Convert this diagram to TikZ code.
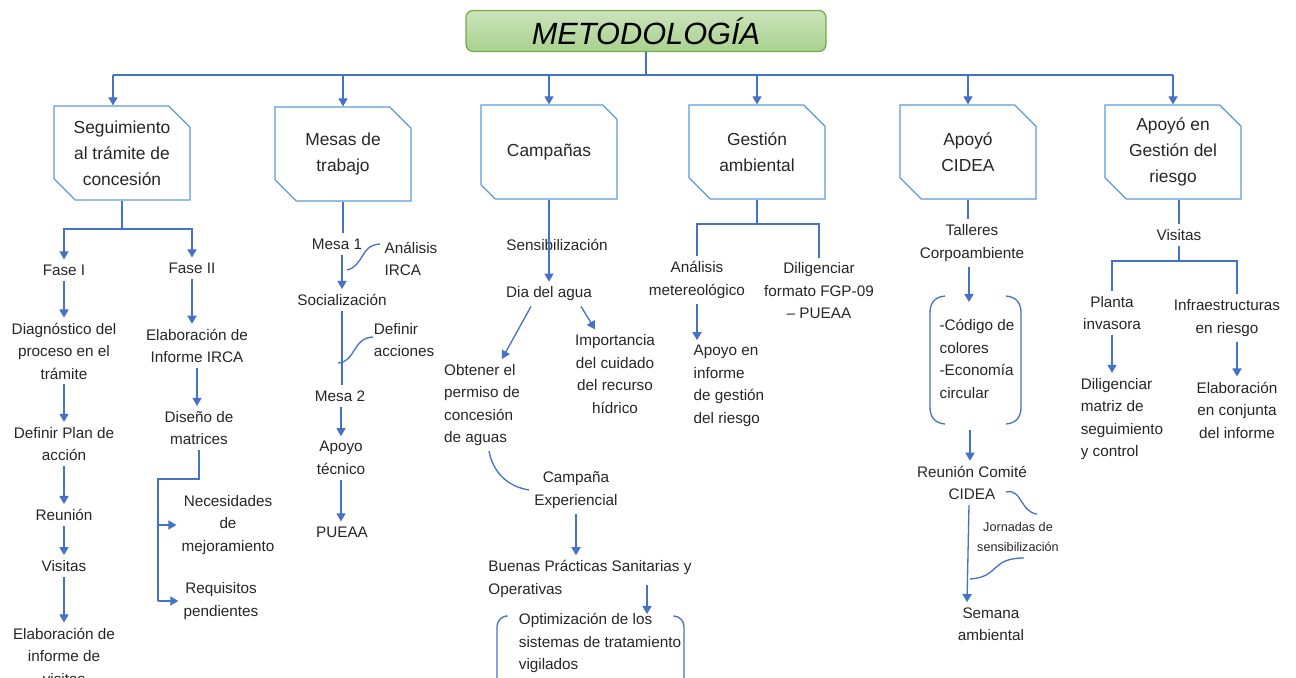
\documentclass[tikz,border=0pt]{standalone}
\usepackage{fontspec}
\setmainfont{Liberation Sans}
\usetikzlibrary{arrows.meta,shapes.misc,positioning,calc}
\definecolor{azul}{HTML}{4472C4}
\definecolor{azulcaja}{HTML}{5B9BD5}
\definecolor{verde}{HTML}{A9D18E}
\definecolor{verdeborde}{HTML}{70AD47}
\definecolor{texto}{HTML}{262626}
\tikzset{
  titulo/.style={rectangle, rounded corners=4pt, draw=verdeborde, line width=0.7pt,
    top color=verde!60!white, bottom color=verde, minimum width=7.2cm, minimum height=0.82cm,
    font=\fontsize{17.5}{20}\selectfont\itshape, text=black},
  caja/.style={chamfered rectangle, chamfered rectangle corners={north east,south west},
    chamfered rectangle xsep=0.3cm, draw=azulcaja, line width=0.7pt,
    minimum width=2.72cm, minimum height=1.88cm, inner sep=0pt,
    font=\fontsize{9.9}{14.8}\selectfont, align=center, text=texto},
  txt/.style={font=\fontsize{8.7}{12.8}\selectfont, align=center, text=texto,
    inner sep=2pt, outer sep=1pt},
  txtl/.style={txt, align=left},
  nota/.style={font=\fontsize{7.2}{11}\selectfont, align=center, text=texto, inner sep=1pt},
  flecha/.style={-{Triangle[length=4.6pt,width=5.2pt]}, draw=azul, line width=0.75pt},
  linea/.style={draw=azul, line width=0.75pt},
  llave/.style={draw=azul, line width=0.75pt}
}
\begin{document}
\begin{tikzpicture}[x=0.02cm,y=-0.02cm]
\useasboundingbox (0,0) rectangle (1296,677);
%titulo y cajas
\node[titulo] (met) at (646,31) {METODOLOGÍA};
\node[caja] (seg) at (122,153) {Seguimiento\\al trámite de\\concesión};
\node[caja] (mes) at (343,154) {Mesas de\\trabajo};
\node[caja] (cam) at (549,152) {Campañas};
\node[caja] (ges) at (757,152) {Gestión\\ambiental};
\node[caja] (cid) at (968,152) {Apoyó\\CIDEA};
\node[caja] (rie) at (1173,152) {Apoyó en\\Gestión del\\riesgo};
\coordinate (bus) at (646,75);
\draw[linea] (met.south) -- (bus);
\draw[linea] ([xshift=-0.18cm]seg.north |- bus) -- (rie.north |- bus);
\draw[flecha] ([xshift=-0.18cm]seg.north |- bus) -- ([xshift=-0.18cm]seg.north);
\foreach \c in {mes,cam,ges,cid,rie}
  \draw[flecha] (\c.north |- bus) -- (\c.north);

%seguimiento
\node[txt] (f1) at (64,270) {Fase I};
\node[txt] (f2) at (192,268) {Fase II};
\node[txt] (diag) at (64,351) {Diagnóstico del\\proceso en el\\trámite};
\node[txt] (plan) at (64,444) {Definir Plan de\\acción};
\node[txt] (reu) at (64,515) {Reunión};
\node[txt] (vis) at (64,566) {Visitas};
\node[txt] (elab) at (64,656) {Elaboración de\\informe de\\visitas};
\coordinate (s1) at (122,229);
\draw[linea] (seg.south) -- (s1);
\draw[flecha] (s1) -| (f1.north);
\draw[flecha] (s1) -| (f2.north);
\draw[flecha] (f1) -- (diag);
\draw[flecha] (diag) -- (plan);
\draw[flecha] (plan) -- (reu);
\draw[flecha] (reu) -- (vis);
\draw[flecha] (vis) -- (elab);
\node[txt] (irca) at (197,346) {Elaboración de\\Informe IRCA};
\node[txt] (dis) at (199,428) {Diseño de\\matrices};
\node[txt] (nec) at (228,525) {Necesidades\\de\\mejoramiento};
\node[txt] (req) at (221,601) {Requisitos\\pendientes};
\draw[flecha] (f2.south) -- (f2.south |- irca.north);
\draw[flecha] (irca.south) -- (irca.south |- dis.north);
\coordinate (rama) at (158,479);
\draw[linea] (dis.south) -- (dis.south |- rama) -- (rama) -- (rama |- req);
\draw[flecha] (rama |- nec) -- (nec.west);
\draw[flecha] (rama |- req) -- (req.west);

%mesas
\node[txt] (m1) at (337,244) {Mesa 1};
\node[txt] (soc) at (342,300) {Socialización};
\node[txt] (m2) at (340,396) {Mesa 2};
\node[txt] (apt) at (341,458) {Apoyo\\técnico};
\node[txt] (pue) at (342,532) {PUEAA};
\node[txtl] (airca) at (411,259) {Análisis\\IRCA};
\node[txtl] (dacc) at (404,340) {Definir\\acciones};
\draw[linea] (mes.south) -- (mes.south |- m1.north);
\draw[flecha] (soc.north |- m1.south) -- (soc.north);
\draw[linea] (soc.south) -- (soc.south |- m2.north);
\draw[flecha] (m2.south -| apt) -- (apt.north);
\draw[flecha] (apt.south) -- (apt.south |- pue.north);
\coordinate (a1) at (347,270);
\coordinate (a2) at (380,244);
\draw[linea] (a1) .. controls (364,266) and (360,245) .. (a2);
\coordinate (d1) at (338,363);
\coordinate (d2) at (373,337);
\draw[linea] (d1) .. controls (356,362) and (352,338) .. (d2);

%campañas
\node[txt] (sen) at (557,245) {Sensibilización};
\node[txt] (dia) at (549,294) {Dia del agua};
\node[txtl] (obt) at (482,405) {Obtener el\\permiso de\\concesión\\de aguas};
\node[txt] (imp) at (615,374) {Importancia\\del cuidado\\del recurso\\hídrico};
\node[txt] (exp) at (576,490) {Campaña\\Experiencial};
\node[txtl] (bue) at (590,579) {Buenas Prácticas Sanitarias y\\Operativas};
\node[txtl] (opt) at (600,643) {Optimización de los\\sistemas de tratamiento\\vigilados};
\draw[flecha] (cam.south) -- (dia.north);
\draw[flecha] ([xshift=-0.36cm]dia.south) -- ([xshift=0.4cm]obt.north);
\draw[flecha] ([xshift=0.64cm]dia.south) -- ([xshift=-0.4cm]imp.north);
\draw[linea] ([xshift=0.14cm]obt.south) to[bend right=35] (exp.west);
\draw[flecha] (exp.south) -- (exp.south |- bue.north);
\coordinate (b1) at (647,585);
\draw[flecha] (b1) -- (647,614);
\draw[llave, rounded corners=6pt] (505,616) -- (497,616) -- (497,690);
\draw[llave, rounded corners=6pt] (675,616) -- (684,616) -- (684,690);

%gestion ambiental
\node[txt] (ana) at (697,280) {Análisis\\metereológico};
\node[txt] (dil) at (819,291) {Diligenciar\\formato FGP-09\\– PUEAA};
\node[txtl] (apo) at (729,386) {Apoyo en\\informe\\de gestión\\del riesgo};
\coordinate (g1) at (757,224);
\draw[linea] (ges.south) -- (g1);
\draw[linea] (ana.north) |- (g1) -| (dil.north);
\draw[flecha] (ana.south) -- (ana.south |- apo.north);

%cidea
\node[txt] (tal) at (972,243) {Talleres\\Corpoambiente};
\node[txtl] (cod) at (977,359) {-Código de\\colores\\-Economía\\circular};
\node[txt] (reuc) at (972,483) {Reunión Comité\\CIDEA};
\node[txt] (sem) at (991,624) {Semana\\ambiental};
\node[nota] (jor) at (1018,537) {Jornadas de\\sensibilización};
\draw[linea] (cid.south) -- (cid.south |- tal.north);
\draw[flecha] (tal.south -| 969,0) -- (969,302);
\draw[llave] (945,296) .. controls (933,297) and (930,305) .. (930,313) -- (930,407)
  .. controls (930,415) and (933,423) .. (945,424);
\draw[llave] (1006,296) .. controls (1018,297) and (1021,305) .. (1021,313) -- (1021,407)
  .. controls (1021,415) and (1018,423) .. (1006,424);
\coordinate (k1) at (970,430);
\draw[flecha] (k1) -- (k1 |- reuc.north);
\draw[flecha] (reuc.south -| 969,0) -- ([xshift=-0.48cm]sem.north);
\coordinate (j1) at (1006,492);
\coordinate (j2) at (1037,514);
\draw[linea] (j1) .. controls (1022,488) and (1020,512) .. (j2);
\coordinate (j3) at (970,579);
\coordinate (j4) at (1024,558);
\draw[linea] (j3) .. controls (1000,577) and (990,558) .. (j4);

%riesgo
\node[txt] (vri) at (1179,235) {Visitas};
\node[txt] (pla) at (1112,313) {Planta\\invasora};
\node[txt] (inf) at (1227,318) {Infraestructuras\\en riesgo};
\node[txtl] (dmat) at (1122,419) {Diligenciar\\matriz de\\seguimiento\\y control};
\node[txt] (eco) at (1237,410) {Elaboración\\en conjunta\\del informe};
\draw[linea] (rie.south -| vri) -- (vri.north);
\coordinate (r1) at (1179,261);
\draw[linea] (vri.south) -- (r1);
\draw[linea] (pla.north) |- (r1) -| ([xshift=0.2cm]inf.north);
\draw[flecha] (pla.south) -- (pla.south |- dmat.north);
\draw[flecha] ([xshift=0.2cm]inf.south) -- ([xshift=0.2cm]inf.south |- eco.north);
\end{tikzpicture}
\end{document}
